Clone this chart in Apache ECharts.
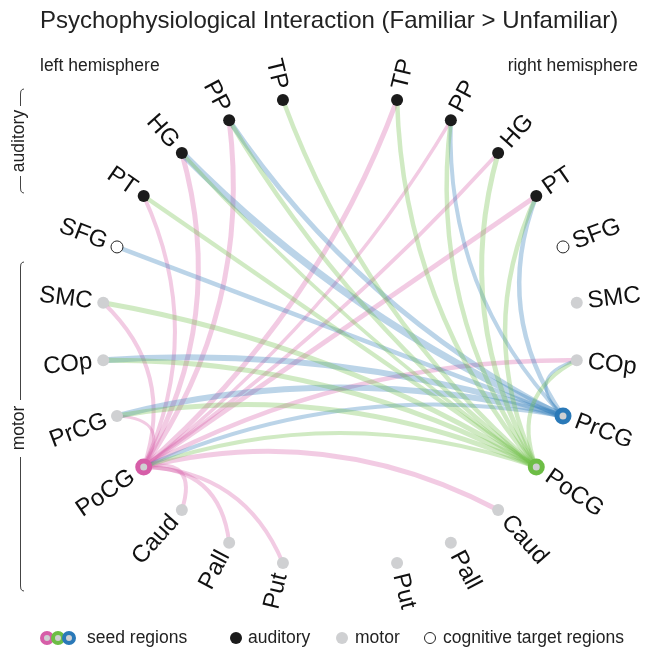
<!DOCTYPE html>
<html>
<head>
<meta charset="utf-8">
<script src="https://cdn.jsdelivr.net/npm/echarts@6/dist/echarts.min.js"></script>
<style>html,body{margin:0;padding:0;background:#fff}#c{width:646px;height:648px}</style>
</head>
<body>
<div id="c"></div>
<script>
// ---- data ----
const titleText = 'Psychophysiological Interaction (Familiar > Unfamiliar)';
// regions per hemisphere, top to bottom
const regionNames = ['TP', 'PP', 'HG', 'PT', 'SFG', 'SMC', 'COp', 'PrCG', 'PoCG', 'Caud', 'Pall', 'Put'];
const regionTypes = ['auditory', 'auditory', 'auditory', 'auditory', 'cognitive', 'motor', 'motor', 'motor', 'motor', 'motor', 'motor', 'motor'];
const seedNames = ['L PoCG', 'R PrCG', 'R PoCG'];
const seedColors = ['#d65ea8', '#2a79b8', '#6dbd45'];
// connections of each seed: [target, strength]
const pinkEdges = [['L PT', 4], ['L HG', 5], ['L PP', 5], ['L SMC', 4], ['L PrCG', 3], ['L Caud', 4], ['L Pall', 4], ['L Put', 4],
  ['R TP', 5], ['R PP', 3.5], ['R HG', 4], ['R PT', 5], ['R COp', 4.5], ['R Caud', 5]];
const blueEdges = [['L SFG', 4.5], ['L HG', 7], ['L PP', 5], ['L COp', 6], ['L PrCG', 6], ['L PoCG', 4],
  ['R PP', 4], ['R PT', 4.5], ['R COp', 3]];
const greenEdges = [['L TP', 4.5], ['L PP', 4.5], ['L HG', 3.5], ['L PT', 4.5], ['L SMC', 5], ['L COp', 5], ['L PrCG', 5], ['L PoCG', 4],
  ['R TP', 4.5], ['R PP', 4.5], ['R HG', 5], ['R PT', 4.5], ['R COp', 4]];
const seedEdges = [pinkEdges, blueEdges, greenEdges];
const legendItems = ['seed regions', 'auditory', 'motor', 'cognitive target regions'];

// ---- build graph ----
const typeStyle = {
  auditory: { color: '#1b1b1b' },
  motor: { color: '#cfd0d2' },
  cognitive: { color: '#ffffff', borderColor: '#222', borderWidth: 1 }
};
function makeNode(hemi, idx) {
  const name = hemi + ' ' + regionNames[idx];
  const s = seedNames.indexOf(name);
  let itemStyle = Object.assign({}, typeStyle[regionTypes[idx]]);
  if (s >= 0) itemStyle = { color: '#cfd0d2', borderColor: seedColors[s], borderWidth: 5 };
  return { name: name, itemStyle: itemStyle };
}
function gapNode(n) { return { name: n, itemStyle: { opacity: 0 }, label: { show: false } }; }
// clockwise order starting just below the right horizontal
const nodes = [];
for (let i = 6; i < 12; i++) nodes.push(makeNode('R', i));
nodes.push(gapNode('gapBottom'));
for (let i = 11; i >= 0; i--) nodes.push(makeNode('L', i));
nodes.push(gapNode('gapTop'));
for (let i = 0; i < 6; i++) nodes.push(makeNode('R', i));
const nodeIndex = {};
nodes.forEach(function (n, i) { nodeIndex[n.name] = i; });

// edges bend more toward the centre the farther apart their ends are
function bend(a, b) {
  let d = Math.abs(nodeIndex[a] - nodeIndex[b]);
  d = Math.min(d, nodes.length - d);
  const frac = d / (nodes.length / 2);
  return (0.2 + 0.8 * frac * frac) / 3;
}
const links = [];
seedEdges.forEach(function (list, s) {
  list.forEach(function (e) {
    links.push({ source: e[0], target: seedNames[s], lineStyle: { color: seedColors[s], width: e[1], curveness: bend(e[0], seedNames[s]) } });
  });
});

const chart = echarts.init(document.getElementById('c'), null, { renderer: 'canvas' });
const FONT = '"Liberation Sans", Arial, Helvetica, sans-serif';
const TXT = '17.5px ' + FONT;

function seg(points) {
  return { type: 'polyline', silent: true, shape: { points: points }, style: { stroke: '#444', lineWidth: 1, fill: null } };
}
function topCurl(x, y, yEnd) { return seg([[x + 3.5, y], [x + 1.6, y + 0.5], [x + 0.4, y + 2], [x, y + 5], [x, yEnd]]); }
function botCurl(x, y, yStart) { return seg([[x, yStart], [x, y - 5], [x + 0.4, y - 2], [x + 1.6, y - 0.5], [x + 3.5, y]]); }

chart.setOption({
  animation: false,
  title: {
    text: titleText, left: 40, top: 9, padding: 0,
    textStyle: { fontSize: 24, fontWeight: 'normal', color: '#222', fontFamily: FONT }
  },
  series: [{
    type: 'graph',
    layout: 'circular',
    circular: { rotateLabel: true },
    left: 101.5, top: 93, width: 477, height: 477,
    roam: false,
    symbol: 'circle',
    symbolSize: 12,
    data: nodes,
    links: links,
    label: {
      show: true, fontSize: 24, color: '#111', fontFamily: FONT, distance: 5,
      formatter: function (p) { return p.name.slice(2); }
    },
    lineStyle: { opacity: 0.32 },
    emphasis: { disabled: true }
  }],
  graphic: [
    { type: 'text', x: 40, y: 66, style: { text: 'left hemisphere', font: TXT, fill: '#222', textVerticalAlign: 'middle' } },
    { type: 'text', x: 638, y: 66, style: { text: 'right hemisphere', font: TXT, fill: '#222', textAlign: 'right', textVerticalAlign: 'middle' } },
    // category brackets
    topCurl(20.5, 89, 106), botCurl(20.5, 193, 176),
    { type: 'text', x: 19, y: 141, rotation: Math.PI / 2, style: { text: 'auditory', font: TXT, fill: '#222', textAlign: 'center', textVerticalAlign: 'middle' } },
    topCurl(20.5, 262, 400), botCurl(20.5, 591, 457),
    { type: 'text', x: 19, y: 428, rotation: Math.PI / 2, style: { text: 'motor', font: TXT, fill: '#222', textAlign: 'center', textVerticalAlign: 'middle' } },
    // legend
    { type: 'circle', shape: { cx: 47, cy: 638, r: 5 }, style: { fill: '#cfd0d2', stroke: seedColors[0], lineWidth: 4 } },
    { type: 'circle', shape: { cx: 58, cy: 638, r: 5 }, style: { fill: '#cfd0d2', stroke: seedColors[2], lineWidth: 4 } },
    { type: 'circle', shape: { cx: 69, cy: 638, r: 5 }, style: { fill: '#cfd0d2', stroke: seedColors[1], lineWidth: 4 } },
    { type: 'text', x: 87, y: 638, style: { text: legendItems[0], font: TXT, fill: '#222', textVerticalAlign: 'middle' } },
    { type: 'circle', shape: { cx: 236, cy: 638, r: 6 }, style: { fill: '#1b1b1b' } },
    { type: 'text', x: 248, y: 638, style: { text: legendItems[1], font: TXT, fill: '#222', textVerticalAlign: 'middle' } },
    { type: 'circle', shape: { cx: 342, cy: 638, r: 6 }, style: { fill: '#cfd0d2' } },
    { type: 'text', x: 355, y: 638, style: { text: legendItems[2], font: TXT, fill: '#222', textVerticalAlign: 'middle' } },
    { type: 'circle', shape: { cx: 430, cy: 638, r: 5.5 }, style: { fill: '#fff', stroke: '#222', lineWidth: 1 } },
    { type: 'text', x: 443, y: 638, style: { text: legendItems[3], font: TXT, fill: '#222', textVerticalAlign: 'middle' } }
  ]
});
</script>
</body>
</html>
